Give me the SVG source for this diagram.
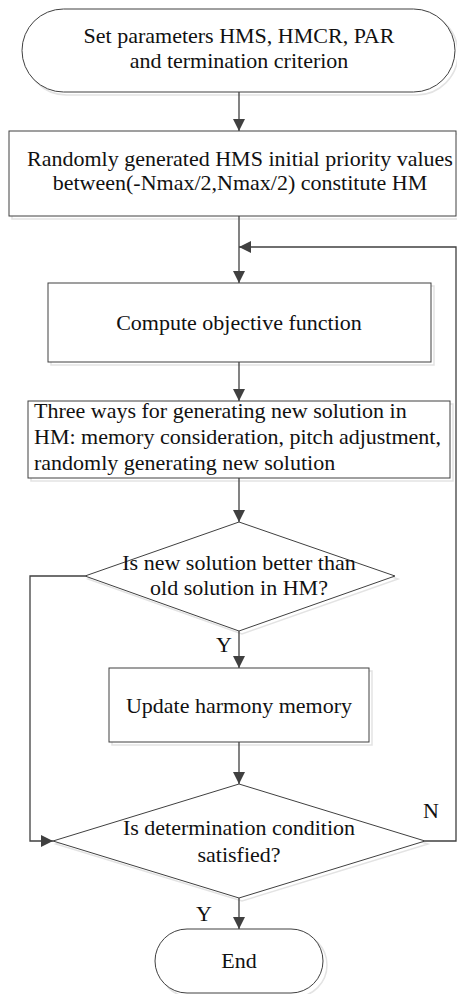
<svg xmlns="http://www.w3.org/2000/svg" width="457" height="994" viewBox="0 0 457 994">
<style>
.s{fill:#fff;stroke:#404040;stroke-width:1}
.sh{fill:none;stroke:#e3e3e3;stroke-width:1.5}
.t{font-family:"Liberation Serif","Times New Roman",serif;font-size:22px;fill:#111}
.c{fill:none;stroke:#404040;stroke-width:1.3}
</style>
<defs>
<marker id="ah" viewBox="0 0 12 12" refX="12" refY="6" markerWidth="12" markerHeight="12" markerUnits="userSpaceOnUse" orient="auto">
<path d="M0,0 L12,6 L0,12 z" fill="#404040"/>
</marker>
</defs>
<rect width="457" height="994" fill="#fff"/>
<g id="n-start">
<rect x="25" y="12" width="433" height="83" rx="41.5" class="sh"/>
<rect x="22" y="9" width="433" height="83" rx="41.5" class="s"/>
<text class="t" x="239" y="43" text-anchor="middle">Set parameters HMS, HMCR, PAR</text>
<text class="t" x="239" y="68" text-anchor="middle">and termination criterion</text>
</g>
<g id="n-init">
<rect x="12" y="134" width="448" height="85" class="sh"/>
<rect x="9" y="131" width="447" height="85" class="s"/>
<text class="t" x="240" y="166" text-anchor="middle">Randomly generated HMS initial priority values</text>
<text class="t" x="240" y="190" text-anchor="middle">between(-Nmax/2,Nmax/2) constitute HM</text>
</g>
<g id="n-compute">
<rect x="51" y="286" width="383" height="79" class="sh"/>
<rect x="48" y="283" width="383" height="79" class="s"/>
<text class="t" x="239" y="330" text-anchor="middle">Compute objective function</text>
</g>
<g id="n-three">
<rect x="31" y="404" width="422" height="77" class="sh"/>
<rect x="28" y="401" width="422" height="77" class="s"/>
<text class="t" x="34" y="418">Three ways for generating new solution in</text>
<text class="t" x="34" y="444">HM: memory consideration, pitch adjustment,</text>
<text class="t" x="34" y="470">randomly generating new solution</text>
</g>
<g id="n-better">
<polygon points="242,525 398,579 242,634 88,579" class="sh"/>
<polygon points="239,522 395,576 239,631 85,576" class="s"/>
<text class="t" x="239" y="570" text-anchor="middle">Is new solution better than</text>
<text class="t" x="239" y="595" text-anchor="middle">old solution in HM?</text>
</g>
<g id="n-update">
<rect x="112" y="671" width="260" height="74" class="sh"/>
<rect x="109" y="668" width="260" height="74" class="s"/>
<text class="t" x="239" y="713" text-anchor="middle">Update harmony memory</text>
</g>
<g id="n-term">
<polygon points="242,787 428,844 242,901 56,844" class="sh"/>
<polygon points="239,784 425,841 239,898 53,841" class="s"/>
<text class="t" x="239" y="835" text-anchor="middle">Is determination condition</text>
<text class="t" x="239" y="862" text-anchor="middle">satisfied?</text>
</g>
<g id="n-end">
<rect x="159" y="933" width="168" height="64" rx="32" class="sh"/>
<rect x="155" y="929" width="168" height="64" rx="32" class="s"/>
<text class="t" x="239" y="968" text-anchor="middle">End</text>
</g>
<g id="connectors">
<line x1="239" y1="92" x2="239" y2="131" class="c" marker-end="url(#ah)"/>
<line x1="239" y1="216" x2="239" y2="283" class="c" marker-end="url(#ah)"/>
<polyline points="425,841 456,841 456,247 239,247" class="c" marker-end="url(#ah)"/>
<line x1="239" y1="362" x2="239" y2="401" class="c" marker-end="url(#ah)"/>
<line x1="239" y1="478" x2="239" y2="522" class="c" marker-end="url(#ah)"/>
<line x1="239" y1="631" x2="239" y2="668" class="c" marker-end="url(#ah)"/>
<polyline points="85,576 30,576 30,841 53,841" class="c" marker-end="url(#ah)"/>
<line x1="239" y1="742" x2="239" y2="784" class="c" marker-end="url(#ah)"/>
<line x1="239" y1="898" x2="239" y2="929" class="c" marker-end="url(#ah)"/>
<text class="t" x="216" y="652">Y</text>
<text class="t" x="423" y="818">N</text>
<text class="t" x="196" y="921">Y</text>
</g>
</svg>
